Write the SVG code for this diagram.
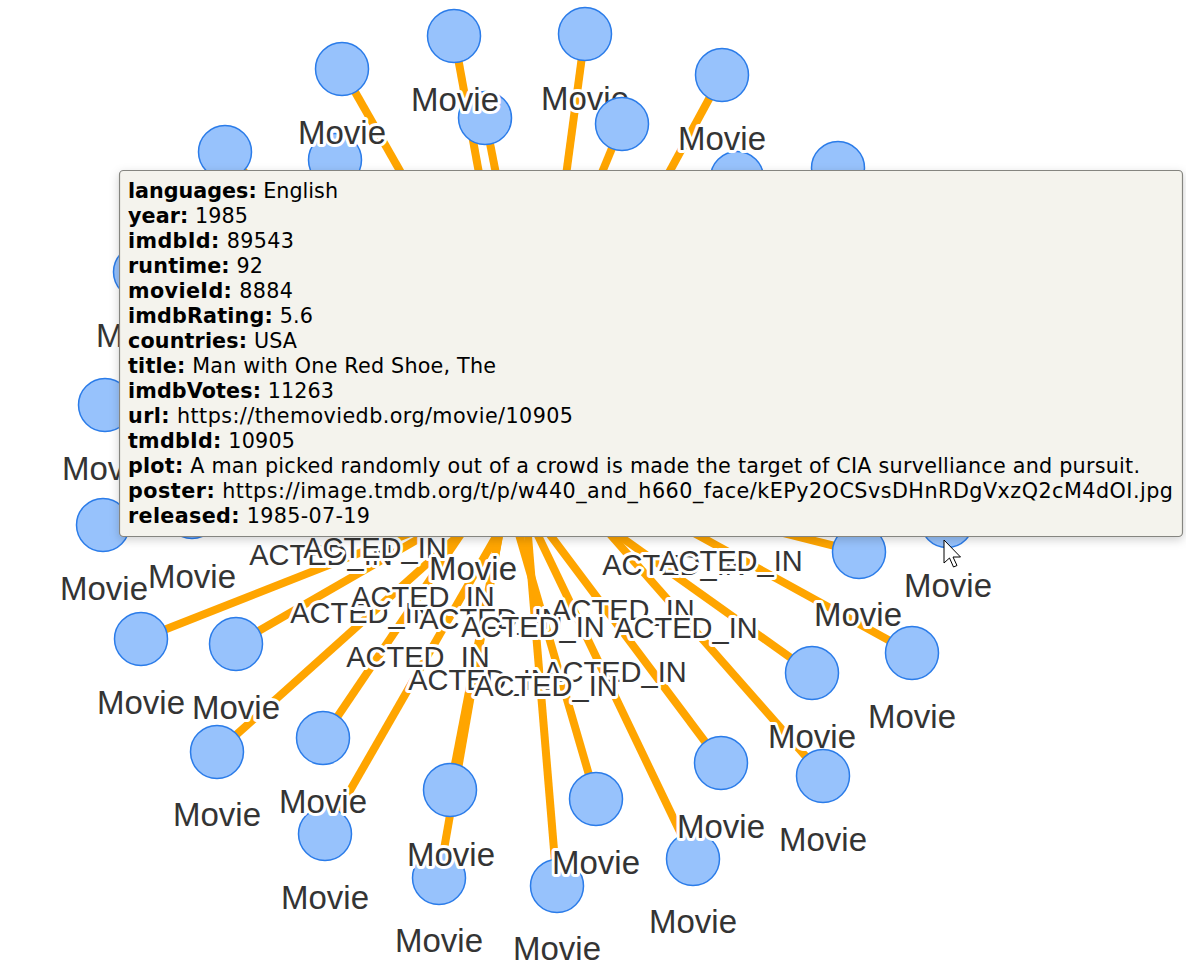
<svg xmlns="http://www.w3.org/2000/svg" width="1186" height="965" viewBox="0 0 1186 965">
<style>
.e{stroke:#ffa500;stroke-width:8;fill:none;stroke-linecap:butt}
.n circle{fill:#97c2fc;stroke:#2b7ce9;stroke-width:1.5}
.n text{font-family:"Liberation Sans",Arial,sans-serif;font-size:33px;fill:#343434;text-anchor:middle;stroke:#fff;stroke-width:6;paint-order:stroke;stroke-linejoin:round}
.el{font-family:"Liberation Sans",Arial,sans-serif;font-size:29px;fill:#343434;text-anchor:middle;stroke:#fff;stroke-width:6;paint-order:stroke;stroke-linejoin:round}
.tt{font-family:"DejaVu Sans",Verdana,sans-serif;font-size:20.7px;fill:#000}
.tt .b{font-weight:bold}
</style>
<defs>
<filter id="sh" x="-5%" y="-10%" width="110%" height="125%">
<feDropShadow dx="0" dy="3" stdDeviation="5" flood-color="#000" flood-opacity="0.18"/>
</filter>
</defs>
<rect width="1186" height="965" fill="#fff"/>
<g id="connectors">
<line class="e" x1="342" y1="69" x2="445" y2="250"/>
<line class="e" x1="454" y1="36" x2="493" y2="250"/>
<line class="e" x1="485" y1="118" x2="511" y2="250"/>
<line class="e" x1="585" y1="34" x2="556" y2="250"/>
<line class="e" x1="622" y1="124" x2="570" y2="250"/>
<line class="e" x1="722" y1="75" x2="627" y2="250"/>
<line class="e" x1="225" y1="152" x2="300" y2="230"/>
<line class="e" x1="737" y1="178" x2="640" y2="300"/>
<line class="e" x1="838" y1="168" x2="700" y2="300"/>
<line class="e" x1="335" y1="160" x2="450" y2="300"/>
<line class="e" x1="140" y1="272" x2="400" y2="400"/>
<line class="e" x1="105" y1="405" x2="400" y2="450"/>
<line class="e" x1="103" y1="525" x2="400" y2="490"/>
<line class="e" x1="192" y1="512" x2="400" y2="490"/>
<line class="e" x1="473" y1="505" x2="500" y2="470"/>
<line class="e" x1="947" y1="521" x2="700" y2="480"/>
<line class="e" x1="141" y1="639" x2="494" y2="500"/>
<line class="e" x1="236" y1="644" x2="486" y2="500"/>
<line class="e" x1="217" y1="752" x2="498" y2="500"/>
<line class="e" x1="323" y1="738" x2="484" y2="500"/>
<line class="e" x1="325" y1="834" x2="517" y2="500"/>
<line class="e" x1="450" y1="790" x2="506" y2="500"/>
<line class="e" x1="439" y1="878" x2="505" y2="500"/>
<line class="e" x1="557" y1="886" x2="525" y2="500"/>
<line class="e" x1="596" y1="799" x2="509" y2="500"/>
<line class="e" x1="693" y1="859" x2="521" y2="500"/>
<line class="e" x1="721" y1="763" x2="524" y2="500"/>
<line class="e" x1="823" y1="776" x2="580" y2="500"/>
<line class="e" x1="812" y1="673" x2="569" y2="500"/>
<line class="e" x1="912" y1="653" x2="634" y2="500"/>
<line class="e" x1="859" y1="552" x2="651" y2="500"/>
<text class="el" x="321" y="565">ACTED_IN</text>
<text class="el" x="375" y="558">ACTED_IN</text>
<text class="el" x="362" y="623">ACTED_IN</text>
<text class="el" x="423" y="607">ACTED_IN</text>
<text class="el" x="491" y="629">ACTED_IN</text>
<text class="el" x="623" y="620">ACTED_IN</text>
<text class="el" x="533" y="637">ACTED_IN</text>
<text class="el" x="686" y="638">ACTED_IN</text>
<text class="el" x="418" y="667">ACTED_IN</text>
<text class="el" x="480" y="690">ACTED_IN</text>
<text class="el" x="615" y="682">ACTED_IN</text>
<text class="el" x="546" y="696">ACTED_IN</text>
<text class="el" x="674" y="575">ACTED_IN</text>
<text class="el" x="731" y="571">ACTED_IN</text>
</g>
<g id="n1" class="n"><circle cx="335" cy="160" r="26.5"/></g>
<g id="n2" class="n"><circle cx="342" cy="69" r="26.5"/><text x="342" y="144">Movie</text></g>
<g id="n3" class="n"><circle cx="225" cy="152" r="26.5"/></g>
<g id="n4" class="n"><circle cx="485" cy="118" r="26.5"/></g>
<g id="n5" class="n"><circle cx="454" cy="36" r="26.5"/><text x="455" y="111">Movie</text></g>
<g id="n6" class="n"><circle cx="585" cy="34" r="26.5"/><text x="585" y="110">Movie</text></g>
<g id="n7" class="n"><circle cx="622" cy="124" r="26.5"/></g>
<g id="n8" class="n"><circle cx="737" cy="178" r="26.5"/></g>
<g id="n9" class="n"><circle cx="722" cy="75" r="26.5"/><text x="722" y="150">Movie</text></g>
<g id="n10" class="n"><circle cx="838" cy="168" r="26.5"/></g>
<g id="n11" class="n"><circle cx="140" cy="272" r="26.5"/><text x="140" y="347">Movie</text></g>
<g id="n12" class="n"><circle cx="105" cy="405" r="26.5"/><text x="106" y="480">Movie</text></g>
<g id="n13" class="n"><circle cx="103" cy="525" r="26.5"/><text x="104" y="600">Movie</text></g>
<g id="n14" class="n"><circle cx="192" cy="512" r="26.5"/><text x="192" y="588">Movie</text></g>
<g id="n15" class="n"><circle cx="473" cy="505" r="26.5"/><text x="473" y="580">Movie</text></g>
<g id="n16" class="n"><circle cx="947" cy="521" r="26.5"/><text x="948" y="597">Movie</text></g>
<g id="n17" class="n"><circle cx="859" cy="552" r="26.5"/><text x="858" y="626">Movie</text></g>
<g id="n18" class="n"><circle cx="912" cy="653" r="26.5"/><text x="912" y="728">Movie</text></g>
<g id="n19" class="n"><circle cx="812" cy="673" r="26.5"/><text x="812" y="748">Movie</text></g>
<g id="n20" class="n"><circle cx="823" cy="776" r="26.5"/><text x="823" y="851">Movie</text></g>
<g id="n21" class="n"><circle cx="693" cy="859" r="26.5"/><text x="693" y="933">Movie</text></g>
<g id="n22" class="n"><circle cx="721" cy="763" r="26.5"/><text x="721" y="838">Movie</text></g>
<g id="n23" class="n"><circle cx="557" cy="886" r="26.5"/><text x="557" y="960">Movie</text></g>
<g id="n24" class="n"><circle cx="596" cy="799" r="26.5"/><text x="596" y="874">Movie</text></g>
<g id="n25" class="n"><circle cx="439" cy="878" r="26.5"/><text x="439" y="952">Movie</text></g>
<g id="n26" class="n"><circle cx="450" cy="790" r="26.5"/><text x="451" y="866">Movie</text></g>
<g id="n27" class="n"><circle cx="325" cy="834" r="26.5"/><text x="325" y="909">Movie</text></g>
<g id="n28" class="n"><circle cx="323" cy="738" r="26.5"/><text x="323" y="813">Movie</text></g>
<g id="n29" class="n"><circle cx="217" cy="752" r="26.5"/><text x="217" y="826">Movie</text></g>
<g id="n30" class="n"><circle cx="236" cy="644" r="26.5"/><text x="236" y="719">Movie</text></g>
<g id="n31" class="n"><circle cx="141" cy="639" r="26.5"/><text x="141" y="714">Movie</text></g>
<g id="tooltip">
<rect x="119.5" y="170.5" width="1063" height="366" rx="4" fill="#f4f3ed" stroke="#858580" stroke-width="1.2" filter="url(#sh)"/>
<text class="tt" x="128" y="198" textLength="210" lengthAdjust="spacing"><tspan class="b">languages:</tspan> English</text>
<text class="tt" x="128" y="223" textLength="120" lengthAdjust="spacing"><tspan class="b">year:</tspan> 1985</text>
<text class="tt" x="128" y="248" textLength="166" lengthAdjust="spacing"><tspan class="b">imdbId:</tspan> 89543</text>
<text class="tt" x="128" y="273" textLength="135" lengthAdjust="spacing"><tspan class="b">runtime:</tspan> 92</text>
<text class="tt" x="128" y="298" textLength="165" lengthAdjust="spacing"><tspan class="b">movieId:</tspan> 8884</text>
<text class="tt" x="128" y="323" textLength="185" lengthAdjust="spacing"><tspan class="b">imdbRating:</tspan> 5.6</text>
<text class="tt" x="128" y="348" textLength="169" lengthAdjust="spacing"><tspan class="b">countries:</tspan> USA</text>
<text class="tt" x="128" y="373" textLength="368" lengthAdjust="spacing"><tspan class="b">title:</tspan> Man with One Red Shoe, The</text>
<text class="tt" x="128" y="398" textLength="206" lengthAdjust="spacing"><tspan class="b">imdbVotes:</tspan> 11263</text>
<text class="tt" x="128" y="423" textLength="445" lengthAdjust="spacing"><tspan class="b">url:</tspan> https://themoviedb.org/movie/10905</text>
<text class="tt" x="128" y="448" textLength="167" lengthAdjust="spacing"><tspan class="b">tmdbId:</tspan> 10905</text>
<text class="tt" x="128" y="473" textLength="1012" lengthAdjust="spacing"><tspan class="b">plot:</tspan> A man picked randomly out of a crowd is made the target of CIA survelliance and pursuit.</text>
<text class="tt" x="128" y="498" textLength="1045" lengthAdjust="spacing"><tspan class="b">poster:</tspan> https://image.tmdb.org/t/p/w440_and_h660_face/kEPy2OCSvsDHnRDgVxzQ2cM4dOI.jpg</text>
<text class="tt" x="128" y="523" textLength="242" lengthAdjust="spacing"><tspan class="b">released:</tspan> 1985-07-19</text>
</g>
<path id="cursor" d="M944,540 L944,563 L949.5,558 L953.5,567 L957,565.5 L953,557 L960.5,557 Z" fill="#fff" stroke="#000" stroke-width="1" stroke-linejoin="round"/>
</svg>
